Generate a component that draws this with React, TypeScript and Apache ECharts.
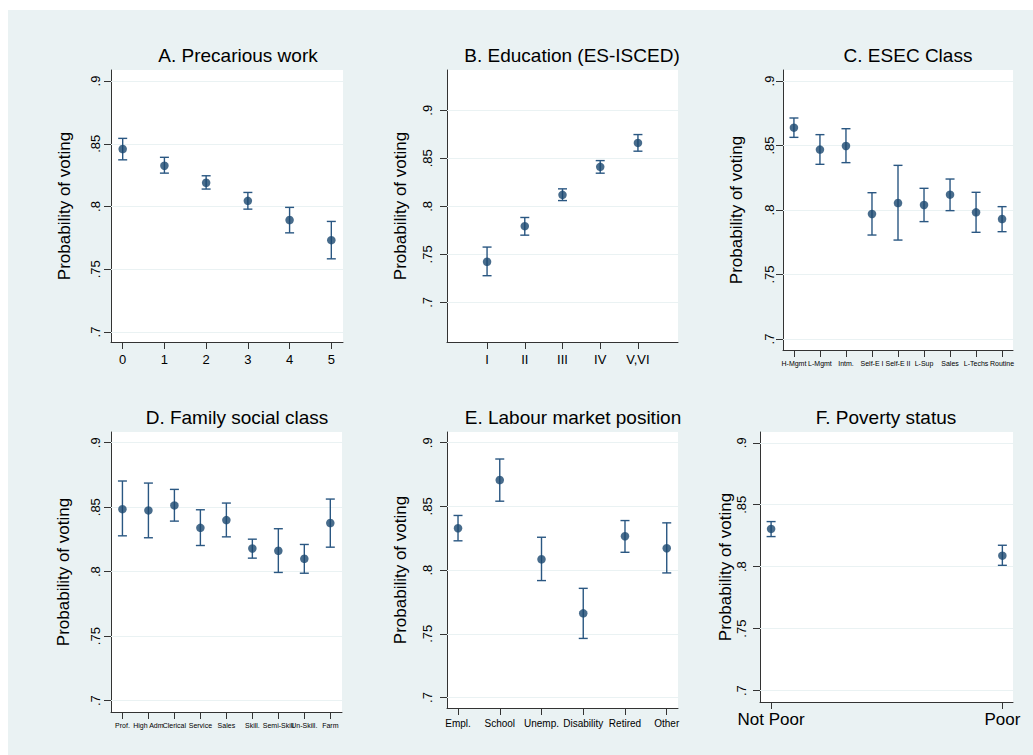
import React, { useEffect, useRef } from "react";
import * as echarts from "echarts";

// ---------- data ----------
const yTicks = [0.7, 0.75, 0.8, 0.85, 0.9];

const precCats = ["0", "1", "2", "3", "4", "5"];
const precX = [0, 1, 2, 3, 4, 5];
const precMean = [0.8458, 0.8325, 0.8189, 0.8045, 0.7892, 0.7732];
const precLo = [0.8372, 0.8266, 0.8139, 0.7979, 0.779, 0.7583];
const precHi = [0.8543, 0.8392, 0.8245, 0.8112, 0.7993, 0.7881];

const eduCats = ["I", "II", "III", "IV", "V,VI"];
const eduX = [1, 2, 3, 4, 5];
const eduMean = [0.7423, 0.7794, 0.812, 0.8411, 0.866];
const eduLo = [0.7278, 0.77, 0.806, 0.8345, 0.8574];
const eduHi = [0.7576, 0.7884, 0.8182, 0.8476, 0.8747];

const esecCats = ["H-Mgmt", "L-Mgmt", "Intm.", "Self-E I", "Self-E II", "L-Sup", "Sales", "L-Techs", "Routine"];
const esecX = [1, 2, 3, 4, 5, 6, 7, 8, 9];
const esecMean = [0.8638, 0.8468, 0.8496, 0.7969, 0.8054, 0.8039, 0.8119, 0.7982, 0.793];
const esecLo = [0.8563, 0.8354, 0.8367, 0.7806, 0.7767, 0.791, 0.7995, 0.7827, 0.7832];
const esecHi = [0.8713, 0.8584, 0.863, 0.8134, 0.8346, 0.8168, 0.824, 0.8137, 0.8026];

const famCats = ["Prof.", "High Adm", "Clerical", "Service", "Sales", "Skill.", "Semi-Skill", "Un-Skill.", "Farm"];
const famX = [1, 2, 3, 4, 5, 6, 7, 8, 9];
const famMean = [0.8485, 0.8475, 0.8514, 0.834, 0.84, 0.818, 0.8162, 0.81, 0.8377];
const famLo = [0.8278, 0.8263, 0.8392, 0.8203, 0.827, 0.8105, 0.7994, 0.7988, 0.819];
const famHi = [0.8703, 0.8687, 0.8638, 0.848, 0.8532, 0.8252, 0.8333, 0.8211, 0.8563];

const labCats = ["Empl.", "School", "Unemp.", "Disability", "Retired", "Other"];
const labX = [1, 2, 3, 4, 5, 6];
const labMean = [0.8329, 0.8707, 0.8085, 0.7661, 0.8266, 0.8172];
const labLo = [0.823, 0.8541, 0.7918, 0.7464, 0.814, 0.7978];
const labHi = [0.8429, 0.8872, 0.8258, 0.7857, 0.8389, 0.8371];

const povCats = ["Not Poor", "Poor"];
const povX = [0, 1];
const povMean = [0.8305, 0.8089];
const povLo = [0.8243, 0.8011];
const povHi = [0.8364, 0.8173];

const titles = [
  "A. Precarious work",
  "B. Education (ES-ISCED)",
  "C. ESEC Class",
  "D. Family social class",
  "E. Labour market position",
  "F. Poverty status",
];

// ---------- layout ----------
const FONT = "Liberation Sans, Arial, Helvetica, sans-serif";
const BG = "#eaf2f3";
const NAVY = "#1a476f";
const AXIS = "#333333";

const panels = [
  { cats: precCats, xs: precX, mean: precMean, lo: precLo, hi: precHi,
    grid: { left: 103, top: 60, width: 232, height: 272 },
    xMin: -0.28, xMax: 5.28, yMin: 0.692, yMax: 0.9088,
    xFont: 13, xMargin: 11, yMargin: 9, nameGap: 38, title: [230, 45] },
  { cats: eduCats, xs: eduX, mean: eduMean, lo: eduLo, hi: eduHi,
    grid: { left: 439, top: 60, width: 231, height: 272 },
    xMin: -0.062, xMax: 6.062, yMin: 0.6588, yMax: 0.9419,
    xFont: 13, xMargin: 11, yMargin: 13, nameGap: 38, title: [564, 45] },
  { cats: esecCats, xs: esecX, mean: esecMean, lo: esecLo, hi: esecHi,
    grid: { left: 775, top: 60, width: 230, height: 280 },
    xMin: 0.58, xMax: 9.42, yMin: 0.6915, yMax: 0.9085,
    xFont: 7, xMargin: 10, yMargin: 7.5, nameGap: 38.5, title: [900, 45] },
  { cats: famCats, xs: famX, mean: famMean, lo: famLo, hi: famHi,
    grid: { left: 103, top: 422, width: 231, height: 280 },
    xMin: 0.56, xMax: 9.45, yMin: 0.6912, yMax: 0.9083,
    xFont: 7, xMargin: 10, yMargin: 9, nameGap: 39, title: [229, 407] },
  { cats: labCats, xs: labX, mean: labMean, lo: labLo, hi: labHi,
    grid: { left: 439, top: 422, width: 231, height: 276 },
    xMin: 0.736, xMax: 6.27, yMin: 0.6918, yMax: 0.9084,
    xFont: 10, xMargin: 10.5, yMargin: 13, nameGap: 38, title: [565, 407] },
  { cats: povCats, xs: povX, mean: povMean, lo: povLo, hi: povHi,
    grid: { left: 752, top: 422, width: 253, height: 270 },
    xMin: -0.048, xMax: 1.046, yMin: 0.6908, yMax: 0.9087,
    xFont: 17, xMargin: 9, yMargin: 12, nameGap: 26, title: [878, 407] },
];

const fmtY = (v: number) => String(Math.round(v * 100) / 100).replace(/^0/, "");

export default function App() {
  const ref = useRef<HTMLDivElement>(null);

  useEffect(() => {
    if (!ref.current) return;
    const chart = echarts.init(ref.current, null, { renderer: "svg" });

    const grids: any[] = [];
    const xAxes: any[] = [];
    const yAxes: any[] = [];
    const series: any[] = [];
    const graphics: any[] = [];

    panels.forEach((p, i) => {
      grids.push({
        ...p.grid,
        show: true,
        backgroundColor: "#ffffff",
        borderWidth: 0,
        containLabel: false,
      });
      xAxes.push({
        type: "value",
        gridIndex: i,
        min: p.xMin,
        max: p.xMax,
        axisLine: { show: true, onZero: false, lineStyle: { color: AXIS, width: 1 } },
        axisTick: { show: true, length: 7, customValues: p.xs, lineStyle: { color: AXIS, width: 1 } },
        axisLabel: {
          show: true,
          customValues: p.xs,
          formatter: (v: number) => {
            const idx = p.xs.indexOf(Math.round(v));
            return idx >= 0 ? p.cats[idx] : "";
          },
          fontFamily: FONT,
          fontSize: p.xFont,
          color: "#000",
          margin: p.xMargin,
          hideOverlap: false,
        },
        splitLine: { show: false },
      });
      yAxes.push({
        type: "value",
        gridIndex: i,
        min: p.yMin,
        max: p.yMax,
        axisLine: { show: true, onZero: false, lineStyle: { color: AXIS, width: 1 } },
        axisTick: { show: true, length: 7, customValues: yTicks, lineStyle: { color: AXIS, width: 1 } },
        axisLabel: {
          show: true,
          customValues: yTicks,
          rotate: 90,
          formatter: (v: number) => fmtY(v),
          fontFamily: FONT,
          fontSize: 13,
          color: "#000",
          margin: p.yMargin,
        },
        splitLine: { show: false },
        name: "Probability of voting",
        nameLocation: "middle",
        nameGap: p.nameGap,
        nameTextStyle: { fontFamily: FONT, fontSize: 17, color: "#000" },
      });
      series.push({
        type: "custom",
        xAxisIndex: i,
        yAxisIndex: i,
        z: 2,
        data: p.xs.map((x, k) => [x, p.lo[k], p.hi[k]]),
        encode: { x: 0, y: [1, 2] },
        renderItem: (params: any, api: any) => {
          const x = api.value(0);
          const top = api.coord([x, api.value(2)]);
          const bot = api.coord([x, api.value(1)]);
          const w = 4.5;
          const style = { stroke: "#2a5782", lineWidth: 1.4 };
          return {
            type: "group",
            children: [
              { type: "line", shape: { x1: top[0], y1: top[1], x2: bot[0], y2: bot[1] }, style },
              { type: "line", shape: { x1: top[0] - w, y1: top[1], x2: top[0] + w, y2: top[1] }, style },
              { type: "line", shape: { x1: bot[0] - w, y1: bot[1], x2: bot[0] + w, y2: bot[1] }, style },
            ],
          };
        },
      });
      series.push({
        type: "scatter",
        xAxisIndex: i,
        yAxisIndex: i,
        z: 3,
        symbol: "circle",
        symbolSize: 8.5,
        itemStyle: { color: NAVY },
        data: p.xs.map((x, k) => [x, p.mean[k]]),
        markLine: {
          silent: true,
          z: 1,
          symbol: "none",
          label: { show: false },
          lineStyle: { color: BG, type: "solid", width: 1.2 },
          data: yTicks.map((v) => ({ yAxis: v })),
        },
      });
      graphics.push({
        type: "text",
        x: p.title[0],
        y: p.title[1],
        style: {
          text: titles[i],
          fontFamily: FONT,
          fontSize: 19,
          fill: "#000",
          textAlign: "center",
          textVerticalAlign: "middle",
        },
      });
    });

    chart.setOption({
      animation: false,
      backgroundColor: BG,
      grid: grids,
      xAxis: xAxes,
      yAxis: yAxes,
      series,
      graphic: graphics,
    });

    return () => chart.dispose();
  }, []);

  return (
    <div
      ref={ref}
      style={{ position: "absolute", left: 8, top: 10, width: 1025, height: 745 }}
    />
  );
}
